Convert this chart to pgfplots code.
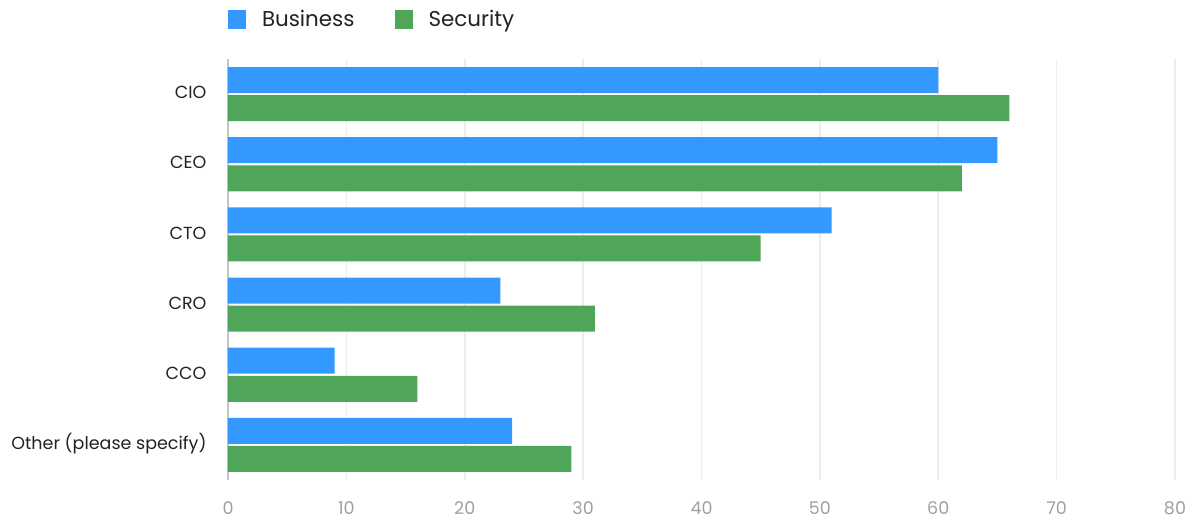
\documentclass[border=0pt]{standalone}
\usepackage{pgfplots}
\pgfplotsset{compat=1.18}
\usepackage{fontspec}
\setmainfont{Poppins}
\definecolor{bizblue}{HTML}{3399FF}
\definecolor{secgreen}{HTML}{50A658}
\definecolor{gridc}{HTML}{ECEEEC}
\definecolor{zeroc}{HTML}{C4C6C5}
\definecolor{tickc}{HTML}{9AA2A0}
\definecolor{labc}{HTML}{222222}
\begin{document}
\begin{tikzpicture}[x=1pt,y=1pt]
\path[use as bounding box] (0,0) rectangle (1202,519);
\begin{axis}[
  at={(228pt,39pt)}, anchor=south west,
  scale only axis, width=947pt, height=421pt,
  xbar, bar width=0.37,
  xmin=0, xmax=80, ymin=-0.5, ymax=5.5,
  y dir=reverse,
  xtick={10,20,...,80},
  ytick={0,1,2,3,4,5},
  yticklabels={CIO,CEO,CTO,CRO,CCO,Other (please specify)},
  extra x ticks={0},
  extra x tick style={grid style={draw=zeroc, line width=2.5pt}},
  xmajorgrids, grid style={draw=gridc, line width=1.6pt},
  major tick length=0pt,
  axis line style={draw=none},
  /pgf/number format/assume math mode=true,
  xticklabel style={font=\fontsize{17.5}{21}\selectfont, text=tickc, inner sep=1pt, yshift=-20pt},
  yticklabel style={font=\fontsize{17.5}{21}\selectfont, text=labc, xshift=-18pt, yshift=1.5pt},
  legend columns=2,
  legend style={draw=none, at={(0,1)}, anchor=south west, inner sep=0pt, outer sep=0pt,
    yshift=29pt, font=\fontsize{21.4}{25}\selectfont, text=labc,
    /tikz/every odd column/.append style={column sep=14pt},
    /tikz/every even column/.append style={column sep=38pt}},
  legend image code/.code={\fill[#1, draw=none] (0pt,-9.5pt) rectangle (18pt,9.5pt);},
  legend cell align=left,
]
\addplot[fill=bizblue, draw=none, bar shift=-0.2] coordinates {(60,0) (65,1) (51,2) (23,3) (9,4) (24,5)};
\addplot[fill=secgreen, draw=none, bar shift=0.2] coordinates {(66,0) (62,1) (45,2) (31,3) (16,4) (29,5)};
\legend{Business,Security}
\end{axis}
\end{tikzpicture}
\end{document}
